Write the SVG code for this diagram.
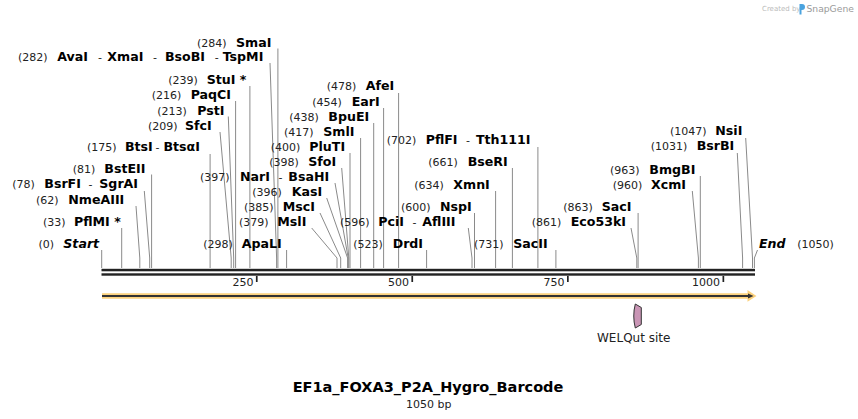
<svg xmlns="http://www.w3.org/2000/svg" width="858" height="419" viewBox="0 0 858 419">
<style>
text{font-family:"DejaVu Sans","Verdana",sans-serif}
.n{font-size:11px;fill:#222}
.e{font-size:12.6px;font-weight:bold;fill:#000}
.d{font-size:12px;fill:#222}
.i{font-size:12.6px;font-weight:bold;font-style:italic;fill:#000}
.c{fill:none;stroke:#8a8a8a;stroke-width:1}
.t{font-size:11px;fill:#222;text-anchor:end}
</style>
<rect width="858" height="419" fill="#fff"/>
<g id="logo">
<text x="762" y="11" style="font-size:7px;fill:#bbb">Created by</text>
<path d="M799.5,4 h2.5 a3,3 0 0 1 0,6 h-0.5 v4.5 h-2 z" fill="#4aa3df"/>
<text x="806.5" y="11.5" style="font-size:9.2px;fill:#9a9a9a">SnapGene</text>
</g>
<g id="connectors">
<polyline class="c" points="277.9,48.5 277.9,268"/>
<polyline class="c" points="270,63 276.6,258 276.6,268"/>
<polyline class="c" points="249.9,86 249.9,268"/>
<polyline class="c" points="235.6,101 235.6,268"/>
<polyline class="c" points="228.3,116.5 233.7,258 233.7,268"/>
<polyline class="c" points="220,132 231.2,258 231.2,268"/>
<polyline class="c" points="210.1,154 210.1,268"/>
<polyline class="c" points="151.6,174.5 151.6,268"/>
<polyline class="c" points="144.3,191 149.7,258 149.7,268"/>
<polyline class="c" points="136,206 139.8,258 139.8,268"/>
<polyline class="c" points="121.7,228 121.7,268"/>
<polyline class="c" points="101.7,250 101.7,268"/>
<polyline class="c" points="398.6,93 398.6,268"/>
<polyline class="c" points="383.6,108 383.6,268"/>
<polyline class="c" points="373.7,123 373.7,268"/>
<polyline class="c" points="360.6,138 360.6,268"/>
<polyline class="c" points="350,153 350,268"/>
<polyline class="c" points="341.7,168 348.8,258 348.8,268"/>
<polyline class="c" points="335,183 348.2,258 348.2,268"/>
<polyline class="c" points="326.7,198 347.6,258 347.6,268"/>
<polyline class="c" points="320,213 340.7,258 340.7,268"/>
<polyline class="c" points="311.7,228 337,258 337,268"/>
<polyline class="c" points="286.6,250 286.6,268"/>
<polyline class="c" points="426.6,250 426.6,268"/>
<polyline class="c" points="468.3,228 472,258 472,268"/>
<polyline class="c" points="474.5,213 474.5,268"/>
<polyline class="c" points="495.6,191 495.6,268"/>
<polyline class="c" points="512.4,168 512.4,268"/>
<polyline class="c" points="537.9,147 537.9,268"/>
<polyline class="c" points="555.9,250 555.9,268"/>
<polyline class="c" points="638.1,213 638.1,268"/>
<polyline class="c" points="631,228 636.8,258 636.8,268"/>
<polyline class="c" points="700.3,176 700.3,268"/>
<polyline class="c" points="692.3,191 698.4,258 698.4,268"/>
<polyline class="c" points="737.3,153 742.6,258 742.6,268"/>
<polyline class="c" points="745.7,138 752.5,258 752.5,268"/>
<polyline class="c" points="757.5,250 754.4,258 754.4,268"/>
</g>
<g id="ruler">
<rect x="101.5" y="268.8" width="653.5" height="2.5" fill="#222"/>
<rect x="101.5" y="273.3" width="653.5" height="2.4" fill="#222"/>
<rect x="255.9" y="276" width="1.7" height="6" fill="#222"/>
<rect x="411.4" y="276" width="1.7" height="6" fill="#222"/>
<rect x="567" y="276" width="1.7" height="6" fill="#222"/>
<rect x="722.5" y="276" width="1.7" height="6" fill="#222"/>
<text class="t" x="253.5" y="285.7">250</text>
<text class="t" x="409" y="285.7">500</text>
<text class="t" x="564.6" y="285.7">750</text>
<text class="t" x="720" y="285.7">1000</text>
</g>
<g id="orf">
<path d="M102,293.3 H747.5 V290 L756.5,296 L747.5,301.8 V298.7 H102 Z" fill="#fcd27e"/>
<path d="M102,295 H748 V293.6 L753.5,296 L748,298.4 V297 H102 Z" fill="#333"/>
</g>
<g id="welqut">
<path d="M635.3,304 L641.3,307.5 L641.3,324.5 L635.3,328 Q632.2,316 635.3,304 Z" fill="#c995b5" stroke="#333" stroke-width="1"/>
<text class="d" x="633.7" y="342" text-anchor="middle">WELQut site</text>
</g>
<g id="labels">
<g id="SmaI"><text class="n" x="197" y="46.5">(284)</text><text class="e" x="236" y="46.5">SmaI</text></g>
<g id="AvaI"><text class="n" x="18" y="60.5">(282)</text><text class="e" x="57.3" y="60.5">AvaI</text><text class="n" x="98" y="60.5">-</text><text class="e" x="107.3" y="60.5">XmaI</text><text class="n" x="153" y="60.5">-</text><text class="e" x="165" y="60.5">BsoBI</text><text class="n" x="214.7" y="60.5">-</text><text class="e" x="222.7" y="60.5">TspMI</text></g>
<g id="StuI"><text class="n" x="168.3" y="84.3">(239)</text><text class="e" x="206.7" y="84.3">StuI *</text></g>
<g id="PaqCI"><text class="n" x="151.7" y="99.3">(216)</text><text class="e" x="190.7" y="99.3">PaqCI</text></g>
<g id="PstI"><text class="n" x="157.3" y="115">(213)</text><text class="e" x="197.3" y="115">PstI</text></g>
<g id="SfcI"><text class="n" x="148" y="130">(209)</text><text class="e" x="185" y="130">SfcI</text></g>
<g id="BtsI"><text class="n" x="87" y="150.5">(175)</text><text class="e" x="125" y="150.5">BtsI</text><text class="n" x="155.5" y="150.5">-</text><text class="e" x="163.5" y="150.5">BtsαI</text></g>
<g id="BstEII"><text class="n" x="72.7" y="173.3">(81)</text><text class="e" x="104.3" y="173.3">BstEII</text></g>
<g id="BsrFI"><text class="n" x="12.3" y="188.3">(78)</text><text class="e" x="44.3" y="188.3">BsrFI</text><text class="n" x="88.5" y="188.3">-</text><text class="e" x="99.3" y="188.3">SgrAI</text></g>
<g id="NmeAIII"><text class="n" x="36" y="204">(62)</text><text class="e" x="68.3" y="204">NmeAIII</text></g>
<g id="PflMI"><text class="n" x="43" y="226">(33)</text><text class="e" x="74" y="226">PflMI *</text></g>
<g id="Start"><text class="n" x="38.5" y="248.3">(0)</text><text class="i" x="63.3" y="248.3">Start</text></g>
<g id="AfeI"><text class="n" x="326.7" y="90">(478)</text><text class="e" x="365.7" y="90">AfeI</text></g>
<g id="EarI"><text class="n" x="312.3" y="105.5">(454)</text><text class="e" x="351.7" y="105.5">EarI</text></g>
<g id="BpuEI"><text class="n" x="289.3" y="120.5">(438)</text><text class="e" x="328.3" y="120.5">BpuEI</text></g>
<g id="SmlI"><text class="n" x="284" y="135.5">(417)</text><text class="e" x="323.3" y="135.5">SmlI</text></g>
<g id="PluTI"><text class="n" x="270.7" y="151">(400)</text><text class="e" x="309.3" y="151">PluTI</text></g>
<g id="SfoI"><text class="n" x="269.3" y="165.7">(398)</text><text class="e" x="308.3" y="165.7">SfoI</text></g>
<g id="NarI"><text class="n" x="200" y="181">(397)</text><text class="e" x="240" y="181">NarI</text><text class="n" x="278.5" y="181">-</text><text class="e" x="288.3" y="181">BsaHI</text></g>
<g id="KasI"><text class="n" x="252.3" y="196">(396)</text><text class="e" x="291.7" y="196">KasI</text></g>
<g id="MscI"><text class="n" x="244" y="211">(385)</text><text class="e" x="282.7" y="211">MscI</text></g>
<g id="MslI"><text class="n" x="239" y="226">(379)</text><text class="e" x="277.3" y="226">MslI</text></g>
<g id="ApaLI"><text class="n" x="203.3" y="248.3">(298)</text><text class="e" x="241.7" y="248.3">ApaLI</text></g>
<g id="DrdI"><text class="n" x="353.3" y="248.3">(523)</text><text class="e" x="392.7" y="248.3">DrdI</text></g>
<g id="PciI"><text class="n" x="340" y="226">(596)</text><text class="e" x="378.3" y="226">PciI</text><text class="n" x="412.5" y="226">-</text><text class="e" x="422.3" y="226">AflIII</text></g>
<g id="NspI"><text class="n" x="401" y="211">(600)</text><text class="e" x="440" y="211">NspI</text></g>
<g id="XmnI"><text class="n" x="414.3" y="188.5">(634)</text><text class="e" x="453.3" y="188.5">XmnI</text></g>
<g id="BseRI"><text class="n" x="428.3" y="165.7">(661)</text><text class="e" x="467.7" y="165.7">BseRI</text></g>
<g id="PflFI"><text class="n" x="386.7" y="144">(702)</text><text class="e" x="425.7" y="144">PflFI</text><text class="n" x="466" y="144">-</text><text class="e" x="476" y="144">Tth111I</text></g>
<g id="SacII"><text class="n" x="474" y="248.3">(731)</text><text class="e" x="513.3" y="248.3">SacII</text></g>
<g id="SacI"><text class="n" x="563.3" y="211">(863)</text><text class="e" x="601.7" y="211">SacI</text></g>
<g id="Eco53kI"><text class="n" x="531.7" y="226">(861)</text><text class="e" x="570.7" y="226">Eco53kI</text></g>
<g id="BmgBI"><text class="n" x="610" y="173.5">(963)</text><text class="e" x="649.3" y="173.5">BmgBI</text></g>
<g id="XcmI"><text class="n" x="612.7" y="188.5">(960)</text><text class="e" x="651" y="188.5">XcmI</text></g>
<g id="BsrBI"><text class="n" x="650.7" y="150">(1031)</text><text class="e" x="696.7" y="150">BsrBI</text></g>
<g id="NsiI"><text class="n" x="670" y="135">(1047)</text><text class="e" x="715.3" y="135">NsiI</text></g>
<g id="End"><text class="i" x="759" y="248.3">End</text><text class="n" x="797.3" y="248.3">(1050)</text></g>
</g>
<g id="title">
<text x="428" y="392" text-anchor="middle" style="font-size:14.5px;font-weight:bold;fill:#000">EF1a_FOXA3_P2A_Hygro_Barcode</text>
<text x="428.8" y="408" text-anchor="middle" style="font-size:11px;fill:#222">1050 bp</text>
</g>
</svg>
